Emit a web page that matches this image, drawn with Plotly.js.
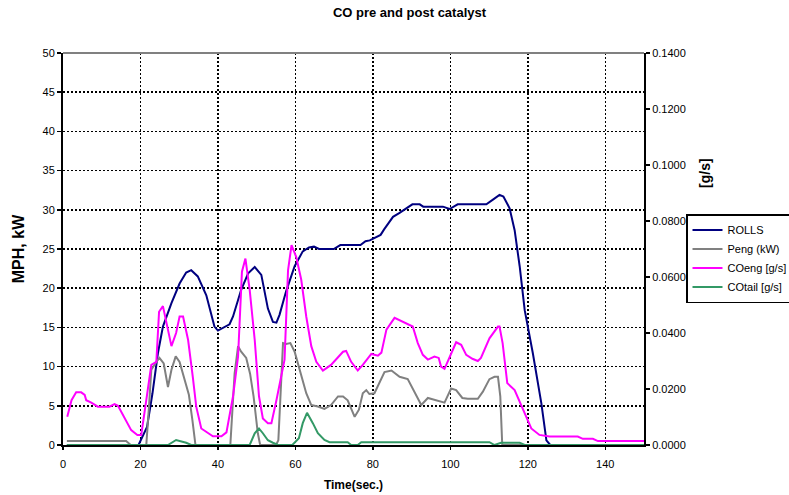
<!DOCTYPE html>
<html>
<head>
<meta charset="utf-8">
<script src="https://cdn.plot.ly/plotly-3.0.1.min.js"></script>
<style>html,body{margin:0;padding:0;background:#fff;}#chart{width:789px;height:495px;}</style>
</head>
<body>
<div id="chart"></div>
<script>
// ROLLS (MPH)
const rollsTime = [1, 19.5, 21.7, 23.1, 24.5, 25.8, 28.0, 30.1, 31.8, 33.1, 34.8, 37.0, 39.1, 40.0, 43.0, 43.9, 46.0, 47.8, 49.5, 51.2, 52.9, 54.2, 55.1, 55.9, 57.6, 59.8, 61.9, 63.5, 64.8, 66.1, 69.9, 71.6, 76.8, 78.1, 79.2, 82.0, 82.9, 85.2, 86.9, 88.9, 90.2, 92.1, 93.0, 98.1, 99.8, 101.9, 109.3, 111.0, 112.7, 113.7, 115.3, 116.6, 117.9, 119.2, 121.3, 123.5, 124.8, 125.8, 150];
const rollsMph = [0, 0, 2.3, 6.6, 11.7, 15.1, 18.1, 20.6, 22.0, 22.3, 21.5, 19.1, 15.1, 14.6, 15.4, 16.4, 19.8, 21.9, 22.7, 21.7, 17.4, 15.7, 15.6, 16.6, 19.6, 22.8, 24.7, 25.2, 25.3, 25.0, 25.0, 25.5, 25.5, 26.0, 26.1, 26.8, 27.5, 29.1, 29.6, 30.2, 30.7, 30.7, 30.4, 30.4, 30.1, 30.7, 30.7, 31.3, 31.9, 31.7, 30.2, 27.4, 22.8, 17.2, 11.7, 5.3, 0.6, 0, 0];

// Peng (kW)
const pengTime = [1, 16.3, 17.5, 21.5, 22.2, 22.8, 24.1, 24.9, 26.0, 27.1, 28.0, 29.1, 30.1, 31.4, 32.5, 33.4, 34.2, 43.2, 44.3, 45.2, 46.0, 47.3, 48.3, 49.2, 50.3, 50.9, 55.0, 55.6, 56.8, 57.6, 58.7, 59.8, 61.1, 62.8, 64.1, 65.8, 67.5, 69.2, 71.0, 72.3, 73.5, 75.3, 76.4, 77.4, 78.3, 79.1, 80.4, 81.7, 83.0, 84.8, 86.9, 89.0, 91.2, 92.5, 94.2, 96.3, 98.5, 100.2, 101.5, 103.1, 104.5, 107.1, 108.4, 110.1, 111.4, 112.3, 112.9, 113.4, 150];
const pengKw = [0.5, 0.5, 0, 0, 4.9, 9.6, 10.6, 11.1, 10.4, 7.4, 9.6, 11.3, 10.6, 8.3, 6.4, 3.2, 0, 0, 9.1, 12.6, 11.9, 11.1, 9.1, 6.2, 1.5, 0, 0, 0.6, 13.0, 12.9, 13.0, 11.9, 9.6, 6.6, 5.1, 4.9, 4.6, 5.1, 6.2, 6.2, 5.7, 3.6, 4.5, 6.6, 7.0, 6.5, 6.6, 7.9, 9.3, 9.5, 8.7, 8.4, 6.2, 5.1, 6.0, 5.7, 5.4, 7.2, 7.0, 6.0, 5.9, 5.9, 6.8, 8.4, 8.7, 8.7, 6.2, 0, 0];

// COeng [g/s]
const coEngTime = [1.1, 2.2, 3.4, 4.7, 5.6, 6.0, 7.3, 9.0, 12.0, 13.3, 14.2, 15.9, 17.6, 19.2, 20.2, 21.5, 22.8, 24.1, 24.8, 25.8, 27.1, 28.0, 29.2, 30.1, 31.0, 32.3, 33.5, 34.4, 35.7, 37.4, 38.7, 40.9, 42.2, 43.9, 45.2, 46.2, 47.1, 48.2, 49.5, 50.6, 51.6, 52.9, 53.8, 55.1, 56.3, 57.2, 58.1, 59.0, 60.2, 61.5, 62.8, 64.1, 65.4, 67.1, 69.2, 72.3, 73.1, 74.4, 76.1, 77.4, 79.6, 81.3, 82.2, 83.5, 85.6, 90.3, 91.6, 92.9, 94.2, 95.9, 97.0, 97.6, 98.5, 99.8, 101.5, 102.8, 104.1, 105.7, 107.1, 107.9, 110.1, 112.3, 112.7, 113.5, 114.7, 116.6, 118.8, 120.9, 123.0, 125.6, 132.9, 134.2, 136.8, 138.1, 150];
const coEngGs = [0.0101, 0.0160, 0.0188, 0.0188, 0.0179, 0.0160, 0.0151, 0.0137, 0.0137, 0.0146, 0.0140, 0.0095, 0.0053, 0.0036, 0.0036, 0.0160, 0.0286, 0.0297, 0.0476, 0.0496, 0.0412, 0.0353, 0.0400, 0.0459, 0.0459, 0.0375, 0.0244, 0.0137, 0.0059, 0.0042, 0.0031, 0.0031, 0.0045, 0.0174, 0.0316, 0.0619, 0.0666, 0.0554, 0.0375, 0.0174, 0.0095, 0.0078, 0.0078, 0.0160, 0.0249, 0.0305, 0.0624, 0.0714, 0.0672, 0.0591, 0.0459, 0.0353, 0.0297, 0.0266, 0.0286, 0.0333, 0.0336, 0.0297, 0.0266, 0.0286, 0.0325, 0.0319, 0.0330, 0.0412, 0.0454, 0.0423, 0.0364, 0.0322, 0.0305, 0.0316, 0.0311, 0.0280, 0.0272, 0.0316, 0.0367, 0.0358, 0.0322, 0.0308, 0.0300, 0.0311, 0.0381, 0.0423, 0.0423, 0.0364, 0.0221, 0.0196, 0.0126, 0.0059, 0.0036, 0.0030, 0.0030, 0.0022, 0.0022, 0.0014, 0.0014];

// COtail [g/s]
const coTailTime = [1, 27.1, 29.2, 30.5, 31.8, 33.1, 48.2, 49.5, 50.6, 51.6, 52.9, 54.2, 55.5, 59.2, 60.9, 61.9, 63.0, 64.5, 65.8, 67.5, 68.8, 73.5, 74.4, 76.1, 77.0, 110.1, 111.4, 113.1, 117.9, 119.2, 150];
const coTailGs = [0, 0, 0.0018, 0.0014, 0.0008, 0, 0, 0.0042, 0.0059, 0.0042, 0.0017, 0.0008, 0, 0, 0.0024, 0.0078, 0.0115, 0.0078, 0.0042, 0.0018, 0.0010, 0.0010, 0, 0, 0.0010, 0.0010, 0, 0.0008, 0.0008, 0, 0];

const seriesNames = ['ROLLS', 'Peng (kW)', 'COeng [g/s]', 'COtail [g/s]'];
const seriesColors = ['#000080', '#808080', '#FF00FF', '#339966'];

const FONT = 'Liberation Sans, Arial, Helvetica, sans-serif';

const traces = [
  {x: rollsTime, y: rollsMph, name: seriesNames[0], type: 'scatter', mode: 'lines', line: {color: seriesColors[0], width: 2}, yaxis: 'y'},
  {x: pengTime, y: pengKw, name: seriesNames[1], type: 'scatter', mode: 'lines', line: {color: seriesColors[1], width: 2}, yaxis: 'y'},
  {x: coEngTime, y: coEngGs, name: seriesNames[2], type: 'scatter', mode: 'lines', line: {color: seriesColors[2], width: 2}, yaxis: 'y2'},
  {x: coTailTime, y: coTailGs, name: seriesNames[3], type: 'scatter', mode: 'lines', line: {color: seriesColors[3], width: 2}, yaxis: 'y2'}
];

const layout = {
  width: 789, height: 495,
  paper_bgcolor: '#fff', plot_bgcolor: '#fff',
  font: {family: FONT, size: 11, color: '#000'},
  margin: {l: 63, r: 145, t: 53, b: 50, autoexpand: false},
  title: {text: 'CO pre and post catalyst', font: {family: FONT, size: 13, weight: 'bold', color: '#000'}, xref: 'container', x: 0.519, xanchor: 'center', yref: 'container', y: 0.974, yanchor: 'middle'},
  showlegend: true,
  legend: {x: 1.0723, y: 0.589, xanchor: 'left', yanchor: 'top', bgcolor: '#fff', bordercolor: '#000', borderwidth: 1.5, font: {family: FONT, size: 11, color: '#000'}, itemwidth: 30, tracegroupgap: 0},
  xaxis: {
    range: [0, 150], dtick: 20, tick0: 0,
    showgrid: true, gridcolor: '#000', gridwidth: 1.5, griddash: '2px,2px',
    zeroline: false, showline: true, linecolor: '#000', linewidth: 2,
    ticks: 'outside', ticklen: 3, tickwidth: 1.5, tickcolor: '#000',
    ticklabelstandoff: 5,
    tickfont: {family: FONT, size: 11, color: '#000'},
    layer: 'above traces',
    title: {text: 'Time(sec.)', font: {family: FONT, size: 12, weight: 'bold', color: '#000'}, standoff: 11}
  },
  yaxis: {
    range: [0, 50], dtick: 5, tick0: 0,
    showgrid: true, gridcolor: '#000', gridwidth: 1.5, griddash: '2px,2px',
    zeroline: false, showline: true, linecolor: '#000', linewidth: 2,
    ticks: 'outside', ticklen: 4, tickwidth: 1.5, tickcolor: '#000',
    tickfont: {family: FONT, size: 11, color: '#000'},
    layer: 'above traces',
    title: {text: 'MPH, kW', font: {family: FONT, size: 16, weight: 'bold', color: '#000'}, standoff: 14}
  },
  yaxis2: {
    overlaying: 'y', side: 'right', anchor: 'x',
    range: [0, 0.14], dtick: 0.02, tick0: 0, tickformat: '.4f',
    showgrid: false, zeroline: false, showline: true, linecolor: '#000', linewidth: 2,
    ticks: 'outside', ticklen: 4, tickwidth: 1.5, tickcolor: '#000',
    tickfont: {family: FONT, size: 11, color: '#000'},
    layer: 'above traces'
  },
  shapes: [
    {type: 'line', xref: 'paper', yref: 'paper', x0: 0, x1: 1, y0: 1, y1: 1, line: {color: '#808080', width: 2}}
  ],
  annotations: [
    {text: '[g/s]', xref: 'paper', yref: 'paper', x: 1.105, y: 0.694, xanchor: 'center', yanchor: 'middle', textangle: -90, showarrow: false, font: {family: FONT, size: 14, weight: 'bold', color: '#000'}}
  ]
};

Plotly.newPlot('chart', traces, layout, {displayModeBar: false, staticPlot: true});
</script>
</body>
</html>
